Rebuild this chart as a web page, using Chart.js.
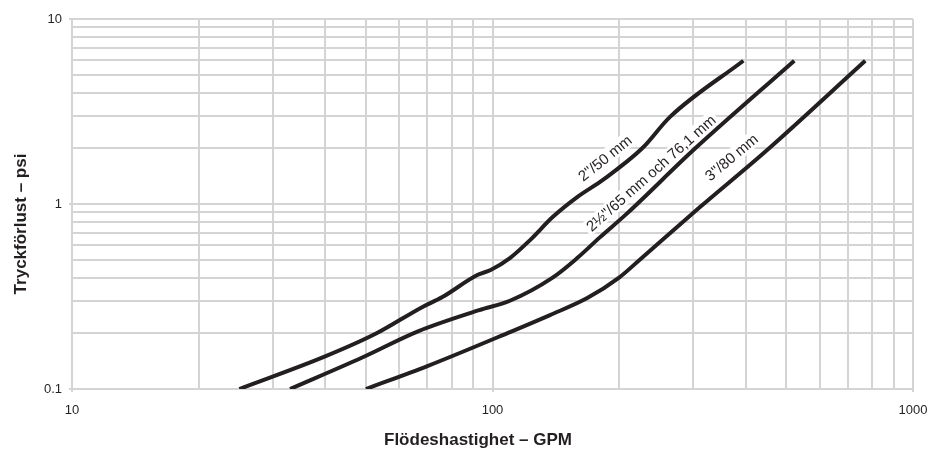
<!DOCTYPE html>
<html lang="sv">
<head>
<meta charset="UTF-8" />
<title>Tryckförlust – psi</title>
<script src="https://cdn.jsdelivr.net/npm/chart.js"></script>
<style>
  html, body { margin: 0; padding: 0; background: #fff; }
</style>
</head>
<body>
<canvas id="chart" width="931" height="458"></canvas>
<script>
// (GPM vs psi)
const flow50 = [25, 40, 53, 68, 76, 92, 99, 110, 123, 139, 159, 183, 227, 264, 395];
const loss50 = [0.1, 0.15, 0.2, 0.277, 0.314, 0.413, 0.44, 0.51, 0.64, 0.85, 1.09, 1.35, 2.0, 2.95, 5.95];

const flow65 = [33, 49, 66.5, 93, 110, 139, 159, 180, 209, 300, 522];
const loss65 = [0.1, 0.148, 0.205, 0.267, 0.30, 0.40, 0.51, 0.66, 0.89, 1.95, 5.95];

const flow80 = [50, 70, 110, 137, 168, 200, 224, 311, 450, 770];
const loss80 = [0.1, 0.133, 0.203, 0.251, 0.31, 0.40, 0.50, 0.96, 1.96, 5.95];

const curveNames = ['2"/50 mm', '2½"/65 mm och 76,1 mm', '3"/80 mm'];
const labelFlow = [185, 238, 370];
const labelLoss = [1.77, 1.47, 1.79];
const labelAngle = [-38.8, -41.5, -40];

const xTickValues = [10, 100, 1000];
const xTickLabels = ['10', '100', '1000'];
const yTickValues = [0.1, 1, 10];
const yTickLabels = ['0.1', '1', '10'];

const xTitle = 'Flödeshastighet – GPM';
const yTitle = 'Tryckförlust – psi';

const ink = '#231f20';
const gridColor = '#d4d4d4';
const tickFont = { family: '"Liberation Sans Narrow", "Liberation Sans", sans-serif', size: 13 };

function logGrid(min, max) {
  const out = [];
  for (let d = min; d < max * 0.999; d *= 10) {
    for (let k = 1; k <= 9; k++) out.push(k * d);
  }
  out.push(max);
  return out;
}

function findIdx(values, v) {
  return values.findIndex(t => Math.abs(t - v) / t < 1e-6);
}

function pts(xs, ys) {
  return xs.map((x, i) => ({ x: x, y: ys[i] }));
}

const curveLabelPlugin = {
  id: 'curveLabels',
  afterDatasetsDraw(chart) {
    const ctx = chart.ctx;
    const xs = chart.scales.x, ys = chart.scales.y;
    ctx.save();
    ctx.font = '15px "Liberation Sans", sans-serif';
    ctx.textAlign = 'center';
    ctx.textBaseline = 'middle';
    curveNames.forEach((name, i) => {
      const px = xs.getPixelForValue(labelFlow[i]);
      const py = ys.getPixelForValue(labelLoss[i]);
      const w = ctx.measureText(name).width;
      ctx.save();
      ctx.translate(px, py);
      ctx.rotate(labelAngle[i] * Math.PI / 180);
      ctx.fillStyle = '#fff';
      ctx.fillRect(-w / 2 - 3, -8, w + 6, 16);
      ctx.fillStyle = ink;
      ctx.fillText(name, 0, 1);
      ctx.restore();
    });
    ctx.restore();
  },
  afterDraw(chart) {
    const ctx = chart.ctx;
    ctx.save();
    ctx.fillStyle = ink;
    ctx.font = 'bold 17px "Liberation Sans", sans-serif';
    ctx.textAlign = 'center';
    ctx.textBaseline = 'middle';
    ctx.fillText(xTitle, 478, 440);
    ctx.translate(21, 224);
    ctx.rotate(-Math.PI / 2);
    ctx.fillText(yTitle, 0, 0);
    ctx.restore();
  }
};

const lineStyle = {
  borderColor: ink,
  borderWidth: 4,
  pointRadius: 0,
  fill: false,
  cubicInterpolationMode: 'monotone'
};

new Chart(document.getElementById('chart'), {
  type: 'line',
  data: {
    datasets: [
      Object.assign({ label: curveNames[0], data: pts(flow50, loss50) }, lineStyle),
      Object.assign({ label: curveNames[1], data: pts(flow65, loss65) }, lineStyle),
      Object.assign({ label: curveNames[2], data: pts(flow80, loss80) }, lineStyle)
    ]
  },
  options: {
    responsive: false,
    animation: false,
    layout: { padding: { top: 19, right: 18, bottom: 0, left: 0 } },
    plugins: { legend: { display: false }, tooltip: { enabled: false } },
    scales: {
      x: {
        type: 'logarithmic',
        min: 10,
        max: 1000,
        afterBuildTicks: s => { s.ticks = logGrid(10, 1000).map(v => ({ value: v })); },
        afterFit: s => { s.height = 69; s.paddingLeft = 0; s.paddingRight = 0; },
        grid: {
          color: gridColor,
          lineWidth: 2,
          tickLength: 3,
          tickColor: c => findIdx(xTickValues, c.tick.value) >= 0 ? gridColor : 'rgba(0,0,0,0)'
        },
        border: { color: gridColor, width: 2 },
        ticks: {
          autoSkip: false,
          maxRotation: 0,
          padding: 11,
          color: ink,
          font: tickFont,
          callback: v => { const i = findIdx(xTickValues, v); return i >= 0 ? xTickLabels[i] : ''; }
        }
      },
      y: {
        type: 'logarithmic',
        min: 0.1,
        max: 10,
        afterBuildTicks: s => { s.ticks = logGrid(0.1, 10).map(v => ({ value: v })); },
        afterFit: s => { s.width = 72; s.paddingTop = 0; s.paddingBottom = 0; },
        grid: {
          color: gridColor,
          lineWidth: 2,
          tickLength: 3,
          tickColor: c => findIdx(yTickValues, c.tick.value) >= 0 ? gridColor : 'rgba(0,0,0,0)'
        },
        border: { color: gridColor, width: 2 },
        ticks: {
          autoSkip: false,
          padding: 7,
          color: ink,
          font: tickFont,
          callback: v => { const i = findIdx(yTickValues, v); return i >= 0 ? yTickLabels[i] : ''; }
        }
      }
    }
  },
  plugins: [curveLabelPlugin]
});
</script>
</body>
</html>
